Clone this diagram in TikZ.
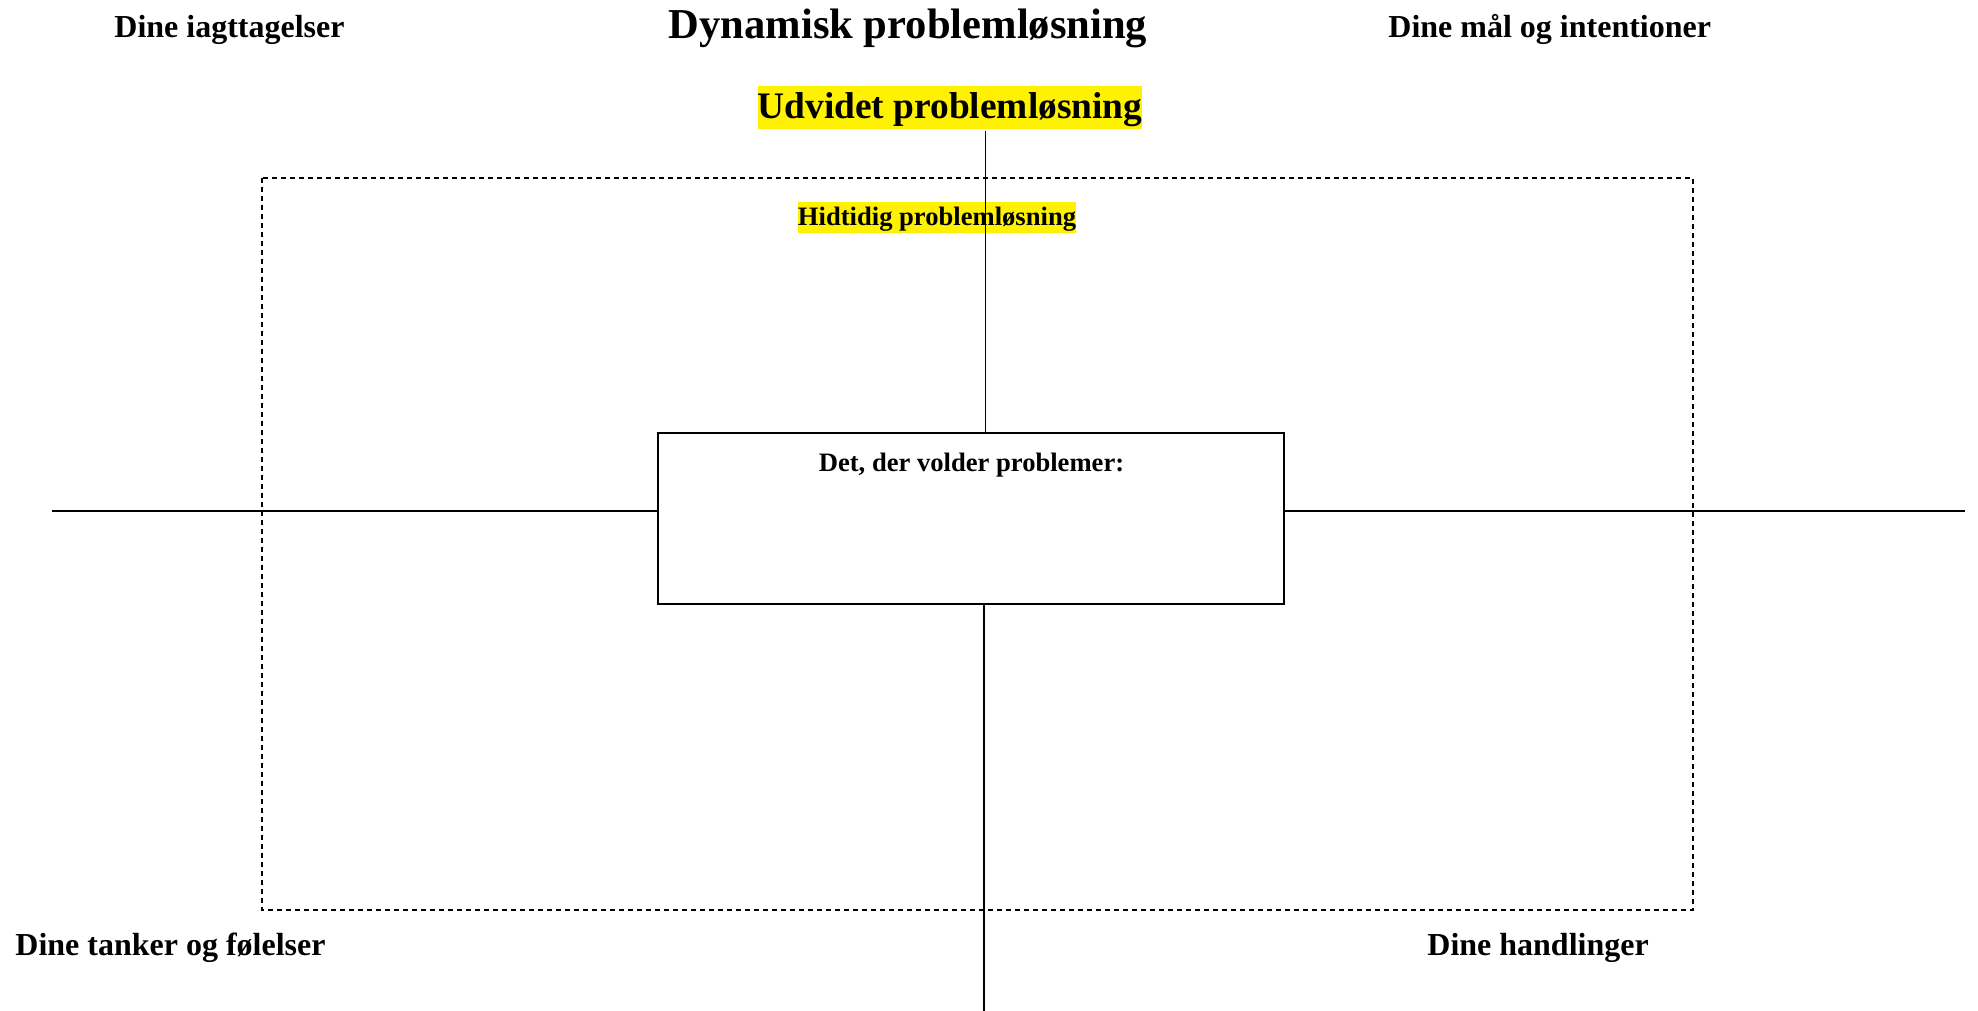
\documentclass[tikz,border=0pt]{standalone}
\usepackage{fontspec}
\setmainfont{Liberation Serif}
\begin{document}
\begin{tikzpicture}[x=0.5pt,y=-0.5pt,
  lbl/.style={inner sep=0pt,font=\bfseries\fontsize{16}{19}\selectfont},
  hl/.style={inner sep=0pt,fill=yellow},
  axis/.style={line width=0.9pt},
  frame/.style={line width=0.9pt,dash pattern=on 2.5pt off 2pt}]
\useasboundingbox (0,0) rectangle (1978,1011);
% titles
\node[inner sep=0pt,anchor=base,font=\bfseries\fontsize{21.3}{25}\selectfont] (title) at (908,39) {Dynamisk problemløsning};
\node[lbl,anchor=base west] (obs) at (114,38) {Dine iagttagelser};
\node[lbl,anchor=base west] (goal) at (1388,38) {Dine mål og intentioner};
\node[lbl,anchor=base west] (thought) at (15,955) {Dine tanker og følelser};
\node[lbl,anchor=base west] (act) at (1427,955) {Dine handlinger};
\node[hl,text height=16.5pt,text depth=5pt,anchor=base,font=\bfseries\fontsize{18.7}{22}\selectfont] (udv) at (950,119) {Udvidet problemløsning};
% dashed frame
\draw[frame] (262,178) rectangle (1693,910);
\node[hl,text height=11.75pt,text depth=3.75pt,anchor=base,font=\bfseries\fontsize{13.3}{15.5}\selectfont] (hid) at (937,225.5) {Hidtidig problemløsning};
% central box
\node[draw,line width=1pt,minimum width=313pt,minimum height=85.5pt,inner sep=0pt] (box) at (971,518.5) {};
\node[inner sep=0pt,anchor=base,font=\bfseries\fontsize{13.3}{15.5}\selectfont] (prob) at (971.5,471) {Det, der volder problemer:};
% axes
\coordinate (hL) at (52,511);
\coordinate (hR) at (1965,511);
\coordinate (vT) at (985.5,131);
\coordinate (vB) at (984,1011);
\draw[axis] (hL) -- (hL -| box.west);
\draw[axis] (box.east |- hR) -- (hR);
\draw[axis] (vT) -- (vT |- box.north);
\draw[axis] (vB |- box.south) -- (vB);
\end{tikzpicture}
\end{document}
